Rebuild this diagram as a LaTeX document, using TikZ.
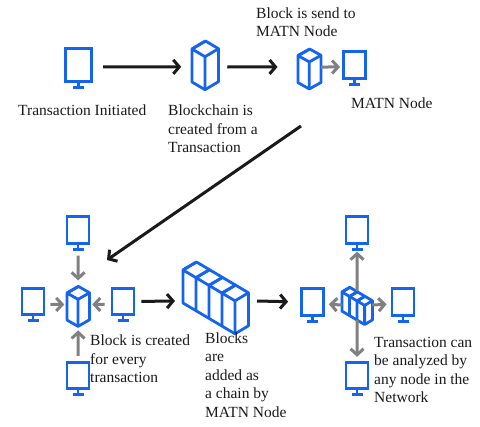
\documentclass[tikz,border=0pt]{standalone}
\usepackage{fontspec}
\setmainfont{Liberation Serif}
\usepackage{xcolor}
\usetikzlibrary{arrows.meta}
\definecolor{chainblue}{HTML}{1464EE}
\definecolor{ink}{HTML}{1A1A1A}
\definecolor{inkgray}{HTML}{808080}
\tikzset{
  screen/.style={draw=chainblue,fill=white,line width=2.8pt,inner sep=0pt,
                 minimum width=22pt,minimum height=26.5pt},
  standline/.style={draw=chainblue,line width=2.8pt},
  caption/.style={font=\fontsize{15.5}{18.4}\selectfont,text=ink,align=left,
                  anchor=west,inner sep=0pt},
  flowarr/.style={-{Straight Barb[length=6pt,width=14pt]},line width=3pt,color=ink},
  softarr/.style={-{Straight Barb[length=6pt,width=13pt]},line width=3pt,color=inkgray},
  pics/blockrow/.style={code={
    \draw[chainblue,fill=white,line width=2.8pt,line join=round]
      (0,0) -- (13.5,-8) -- ++({#1*13},{#1*7.7}) -- ++(0,33) -- ++(-13.5,8)
        -- ++({-#1*13},{-#1*7.7}) -- cycle
      (0,0) -- ({#1*13},{#1*7.7});
    \foreach \i in {1,...,#1} {
      \draw[chainblue,line width=2.8pt]
        ({(\i-1)*13+13.5},{(\i-1)*7.7-8}) -- ++(-13.5,8)
        ({\i*13+13.5},{\i*7.7-8}) -- ++(-13.5,8) -- ++(0,33);
    }
    \coordinate (-c) at ({(#1*13+13.5)/2},{(#1*7.7+25)/2});
  }}
}
% monitor with its stand: name, x, y
\newcommand{\screenat}[4][]{
  \node[screen,#1] (#2) at (#3,#4) {};
  \draw[standline] (#2.south) -- ++(0,4.5) ++(-5.5,0) -- ++(11,0);
}
\begin{document}
\begin{tikzpicture}[x=1pt,y=-1pt]
  \useasboundingbox (0,0) rectangle (480,427);

  % top row
  \screenat[minimum width=26.5pt,minimum height=32.5pt]{sender}{78.5}{65}
  \pic (first) at (192,49) {blockrow=1};
  \pic[xscale=0.87,yscale=0.82] (sent) at (298,55.6) {blockrow=1};
  \screenat{matn}{354.5}{65}
  \draw[flowarr,shorten <=10pt,shorten >=11pt] ([yshift=-2pt]sender.east) -- ([yshift=-1.5pt,xshift=-13pt]first-c);
  \draw[flowarr,shorten <=9pt,shorten >=21pt] ([xshift=13pt,yshift=-1.5pt]first-c) -- ([xshift=-11pt,yshift=2pt]sent-c);
  \draw[softarr,shorten >=2pt] ([xshift=11.5pt,yshift=2pt]sent-c) -- ([yshift=-2pt]matn.west);

  % long way down
  \coordinate (turn) at (301,126);
  \coordinate (landing) at (107,260);
  \draw[flowarr] (turn) -- (landing);

  % left cluster
  \pic[xscale=0.85,yscale=0.82] (made) at (67,293) {blockrow=1};
  \screenat{lefttop}{78}{230}
  \screenat{leftwest}{33}{301.5}
  \screenat{lefteast}{123}{301.5}
  \screenat{leftbot}{78}{375.5}
  \draw[softarr,shorten <=11pt,shorten >=26pt] (lefttop.south) -- (made-c);
  \draw[softarr,shorten <=5pt,shorten >=14pt] ([yshift=-3pt]leftwest.east) -- ([yshift=2pt]made-c);
  \draw[softarr,shorten <=6pt,shorten >=14pt] ([yshift=-3pt]lefteast.west) -- ([yshift=2pt]made-c);
  \draw[softarr,shorten <=5pt,shorten >=24pt] (leftbot.north) -- (made-c);

  % chain in the middle
  \pic (chain) at (183,270) {blockrow=4};
  \coordinate (chainin) at (175,301);
  \coordinate (chainout) at (257,301);
  \draw[flowarr,shorten <=6pt] (lefteast.east) -- (chainin);

  % right cluster
  \pic[scale=0.58] (small) at (342,292) {blockrow=3};
  \screenat{righttop}{357}{230}
  \screenat{rightwest}{312.5}{302}
  \screenat{righteast}{403}{302}
  \screenat{rightbot}{357}{375.5}
  \draw[softarr,shorten <=15pt,shorten >=7pt] (small-c) -- (righttop.south);
  \draw[softarr,shorten <=15pt,shorten >=4pt] (small-c) -- ([yshift=-2pt]rightwest.east);
  \draw[softarr,shorten <=15pt,shorten >=4pt] (small-c) -- ([yshift=-2pt]righteast.west);
  \draw[softarr,shorten <=14pt,shorten >=4pt] (small-c) -- (rightbot.north);
  \draw[flowarr,shorten >=12pt] (chainout) -- (rightwest.west);

  % captions
  \node[caption] (capa) at (18,110) {Transaction Initiated};
  \node[caption] (capb) at (168,129) {Blockchain is\\created from a\\Transaction};
  \node[caption] (capc) at (256,22) {Block is send to\\MATN Node};
  \node[caption] (capd) at (351,103) {MATN Node};
  \node[caption] (cape) at (90,359) {Block is created\\for every\\transaction};
  \node[caption] (capf) at (205,375) {Blocks\\are\\added as\\a chain by\\MATN Node};
  \node[caption] (capg) at (374,370) {Transaction can\\be analyzed by\\any node in the\\Network};
\end{tikzpicture}
\end{document}
